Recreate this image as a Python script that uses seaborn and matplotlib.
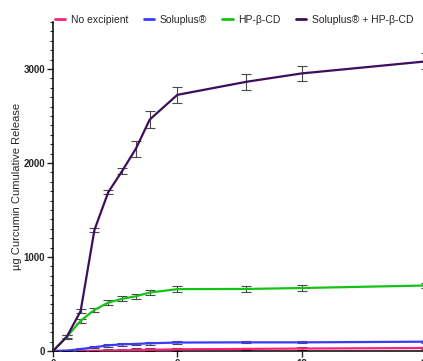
import numpy as np
import pandas as pd
import matplotlib
matplotlib.use("Agg")
import matplotlib.pyplot as plt
from matplotlib.ticker import MultipleLocator
import seaborn as sns

days = [0, 1, 2, 3, 4, 5, 6, 7, 9, 14, 18, 27]
series_names = ["No excipient", "Soluplus®", "HP-β-CD", "Soluplus® + HP-β-CD"]
no_excipient = [0, 1, 2, 3, 4, 7, 10, 13, 18, 22, 26, 32]
no_excipient_err = [2, 3, 5, 8, 12, 15, 18, 18, 18, 15, 15, 15]
soluplus = [0, 4, 20, 40, 60, 71, 75, 82, 90, 92, 92, 99]
soluplus_err = [2, 4, 8, 12, 15, 15, 15, 15, 15, 12, 12, 12]
hpbcd = [0, 150, 322, 437, 515, 555, 582, 622, 658, 660, 670, 697]
hpbcd_err = [5, 15, 20, 22, 25, 25, 28, 30, 30, 30, 30, 30]
combo = [0, 152, 425, 1288, 1690, 1914, 2152, 2462, 2725, 2864, 2953, 3081]
combo_err = [5, 20, 22, 22, 25, 30, 84, 86, 84, 84, 84, 84]
colors = ["#ff1f7a", "#3b3bff", "#14c414", "#3d0e5e"]
x_ticks = [0, 9, 18, 27]

values = [no_excipient, soluplus, hpbcd, combo]
errors = [no_excipient_err, soluplus_err, hpbcd_err, combo_err]
df = pd.DataFrame({
    "Day": np.tile(days, 4),
    "Release": np.concatenate(values),
    "Series": np.repeat(series_names, len(days)),
})

sns.set_style("ticks")
plt.rcParams["font.family"] = ["Liberation Sans", "DejaVu Sans"]

fig = plt.figure(figsize=(4.23, 3.61), dpi=100)
ax = fig.add_axes([53 / 423, 10 / 361, (426 - 53) / 423, (351 - 22) / 361])

for name, v, e, c in zip(series_names, values, errors, colors):
    ax.errorbar(days, v, yerr=e, fmt="none", ecolor="#4a4a4a", elinewidth=0.8,
                capsize=3.5, capthick=0.8, zorder=2)

sns.lineplot(data=df, x="Day", y="Release", hue="Series", hue_order=series_names,
             palette=colors, linewidth=1.6, ax=ax, legend=True, zorder=3)

ax.set_xlim(0, 27)
ax.set_ylim(0, 3500)
ax.set_xticks(x_ticks)
ax.set_xticklabels([str(t) for t in x_ticks], fontsize=7, fontweight="bold")
ax.set_yticks([0, 1000, 2000, 3000])
ax.set_yticklabels(["0", "1000", "2000", "3000"], fontsize=7, fontweight="bold")
ax.yaxis.set_minor_locator(MultipleLocator(100))
ax.tick_params(axis="both", which="major", length=4, width=1, direction="out", pad=1.5)
ax.tick_params(axis="y", which="minor", length=2.2, width=0.8, direction="out")
for s in ["top", "right"]:
    ax.spines[s].set_visible(False)
for s in ["left", "bottom"]:
    ax.spines[s].set_linewidth(1.1)
    ax.spines[s].set_color("black")

ax.set_xlabel("Time (days)", fontsize=8, fontweight="bold", labelpad=1)
ax.set_ylabel("µg Curcumin Cumulative Release", fontsize=8, labelpad=1)

handles, labels = ax.get_legend_handles_labels()
ax.get_legend().remove()
leg = fig.legend(handles, labels, loc="center", bbox_to_anchor=(234 / 423, 1 - 20 / 361),
                 ncol=4, frameon=False, fontsize=7.5, handlelength=1.0, handletextpad=0.5,
                 columnspacing=1.5, borderaxespad=0)
for line in leg.get_lines():
    line.set_linewidth(2)

fig.savefig("out.png", dpi=100)
